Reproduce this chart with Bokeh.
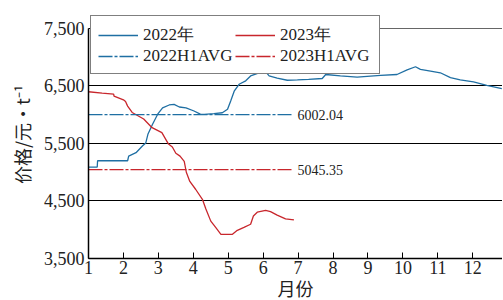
from bokeh.plotting import figure
from bokeh.models import (Range1d, FixedTicker, NumeralTickFormatter, Legend, LegendItem,
                          ColumnDataSource, Grid, LinearAxis)
from bokeh.core.properties import value
from bokeh.embed import file_html
from bokeh.resources import INLINE

# 2022 price series (month, price)
m22 = [1.0, 1.25, 1.26, 2.12, 2.15, 2.36, 2.55, 2.64, 2.7, 2.83, 2.98, 3.12, 3.31, 3.45,
       3.6, 3.79, 4.02, 4.2, 4.31, 4.59, 4.83, 4.98, 5.07, 5.17, 5.31, 5.5, 5.64, 5.88,
       6.07, 6.17, 6.4, 6.69, 6.98, 7.3, 7.69, 7.79, 8.21, 8.69, 9.36, 9.83, 10.12, 10.36,
       10.5, 10.79, 11.07, 11.36, 11.64, 12.02, 12.4, 12.83]
v22 = [5090, 5090, 5200, 5200, 5280, 5340, 5460, 5510, 5660, 5830, 6010, 6120, 6170, 6180,
       6135, 6120, 6065, 6010, 6005, 6020, 6035, 6095, 6240, 6410, 6530, 6590, 6675, 6730,
       6750, 6675, 6635, 6600, 6605, 6615, 6630, 6700, 6675, 6655, 6685, 6700, 6780, 6835,
       6790, 6760, 6730, 6645, 6605, 6570, 6510, 6455]

# 2023 price series
m23 = [1.0, 1.39, 1.72, 1.73, 2.0, 2.06, 2.12, 2.25, 2.58, 2.82, 3.1, 3.29, 3.4, 3.5, 3.62,
       3.74, 3.8, 3.9, 4.07, 4.26, 4.36, 4.5, 4.64, 4.79, 5.12, 5.26, 5.45, 5.64, 5.72, 5.83,
       6.07, 6.21, 6.4, 6.64, 6.88]
v23 = [6400, 6375, 6360, 6325, 6260, 6230, 6150, 6040, 5925, 5775, 5690, 5490, 5440, 5330,
       5280, 5190, 5000, 4840, 4700, 4530, 4360, 4150, 4040, 3920, 3920, 3990, 4040, 4095,
       4240, 4305, 4335, 4315, 4255, 4190, 4170]

# first-half averages
avg_x = [1.0, 6.84]
avg22 = 6002.04
avg23 = 5045.35
avg_labels = ["6002.04", "5045.35"]

x_ticks = [1, 2, 3, 4, 5, 6, 7, 8, 9, 10, 11, 12]
y_ticks = [3500, 4500, 5500, 6500, 7500]
grid_ticks = [4500, 5500, 6500]
top_tick = [7500]

BLUE = "#1f6fa3"
RED = "#c8262c"
SERIF = "Liberation Serif"
CJK = "Noto Sans CJK SC"

# frame extends a little above 7,500 so the legend box can overlap the top edge
p = figure(frame_width=414, frame_height=248, output_backend="svg", toolbar_location=None,
           x_range=Range1d(1, 12.85), y_range=Range1d(3500, 7813),
           min_border_left=88, min_border_right=0, min_border_top=10, min_border_bottom=40)

p.background_fill_color = "white"
p.outline_line_color = None

# axes
p.xaxis.ticker = FixedTicker(ticks=x_ticks)
p.yaxis.ticker = FixedTicker(ticks=y_ticks)
p.yaxis.formatter = NumeralTickFormatter(format="0,0")
p.yaxis.bounds = (3500, 7500)
for ax in (p.xaxis[0], p.yaxis[0]):
    ax.axis_line_color = "black"
    ax.axis_line_width = 1.5
    ax.major_tick_line_color = "black"
    ax.major_tick_in = 6
    ax.major_tick_out = 0
    ax.minor_tick_line_color = None
    ax.major_label_text_font = SERIF
    ax.major_label_text_font_size = "18px"
    ax.major_label_text_color = "#222222"
    ax.axis_label_text_font = CJK
    ax.axis_label_text_font_size = "18px"
    ax.axis_label_text_font_style = "normal"
    ax.axis_label_text_color = "#222222"
p.xaxis.axis_label = "月份"
p.xaxis.axis_label_standoff = -2
p.xaxis.major_label_standoff = 2
p.yaxis.axis_label = "价格/元·t⁻¹"
p.yaxis.axis_label_standoff = 6
p.yaxis.major_label_standoff = 4

# right frame edge
right_axis = LinearAxis(bounds=(3500, 7500), axis_line_color="#666666", axis_line_width=1,
                        major_tick_line_color=None, minor_tick_line_color=None,
                        major_label_text_font_size="0px", major_label_standoff=0,
                        ticker=FixedTicker(ticks=[]))
p.add_layout(right_axis, "right")

p.xgrid.grid_line_color = None
p.ygrid.grid_line_color = "black"
p.ygrid.grid_line_width = 1
p.ygrid.ticker = FixedTicker(ticks=grid_ticks)
p.add_layout(Grid(dimension=1, ticker=FixedTicker(ticks=top_tick),
                  grid_line_color="#666666", grid_line_width=1.2))

# lines
r22 = p.line(m22, v22, line_color=BLUE, line_width=1.3)
r23 = p.line(m23, v23, line_color=RED, line_width=1.3)
ra22 = p.line(avg_x, [avg22, avg22], line_color=BLUE, line_width=1.3, line_dash="14 2 3 2")
ra23 = p.line(avg_x, [avg23, avg23], line_color=RED, line_width=1.3, line_dash="14 2 3 2")

src = ColumnDataSource(dict(x=[avg_x[1], avg_x[1]], y=[avg22, avg23], t=avg_labels))
p.text(x="x", y="y", text="t", source=src, x_offset=5, text_baseline="middle",
       text_font=value(SERIF), text_font_size="14px", text_color="#222222")

legend = Legend(items=[LegendItem(label="2022年", renderers=[r22]),
                       LegendItem(label="2023年", renderers=[r23]),
                       LegendItem(label="2022H1AVG", renderers=[ra22]),
                       LegendItem(label="2023H1AVG", renderers=[ra23])],
                location=(2, 184), orientation="horizontal", ncols=2,
                glyph_width=40, glyph_height=18, label_standoff=5, label_width=92,
                label_height=18, spacing=0, padding=7, margin=0,
                label_text_font=SERIF, label_text_font_size="17px", label_text_color="#222222",
                border_line_color="black", border_line_width=1.2,
                background_fill_color="white", background_fill_alpha=1)
p.add_layout(legend, "center")

open("out.html", "w").write(file_html(p, INLINE))
